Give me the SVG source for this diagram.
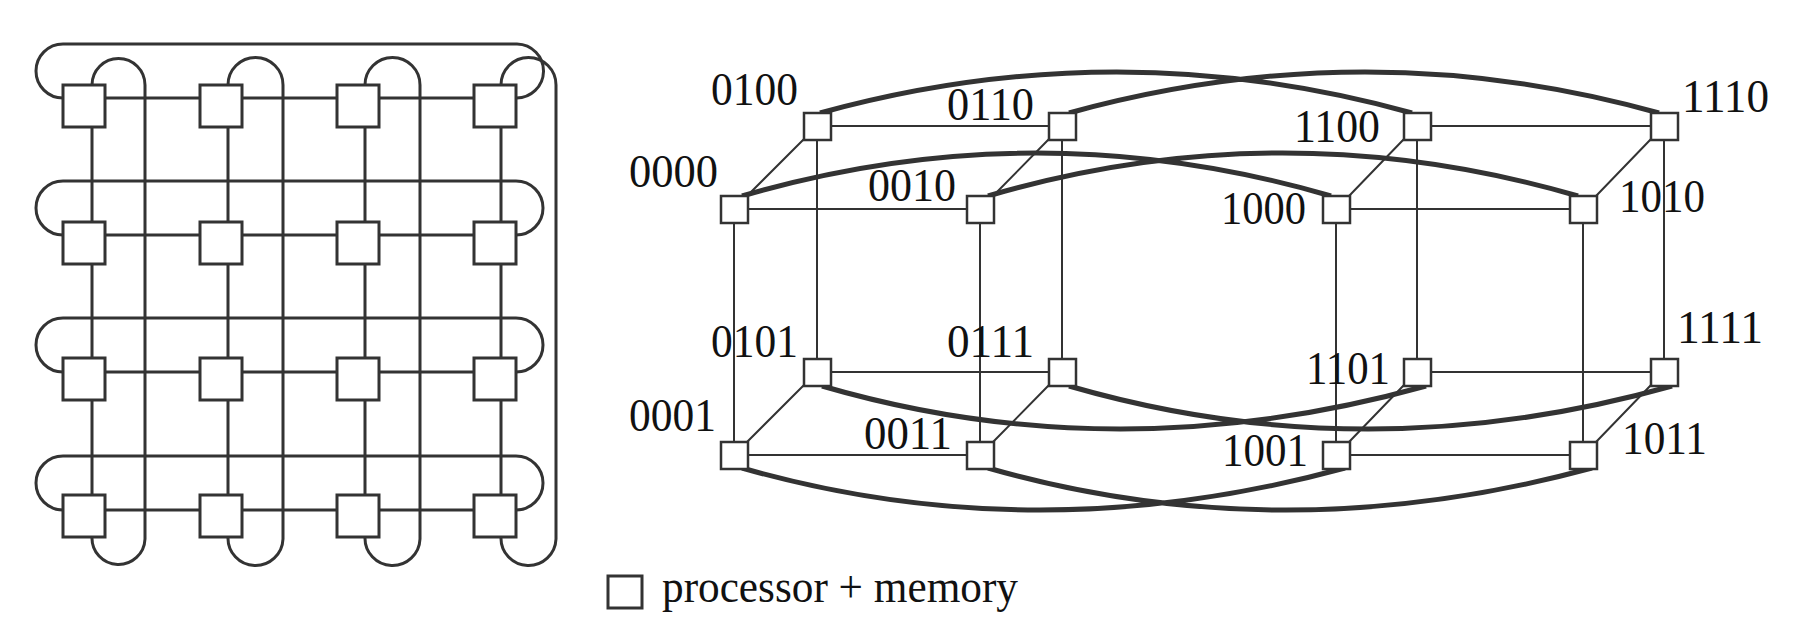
<svg xmlns="http://www.w3.org/2000/svg" width="1814" height="617" viewBox="0 0 1814 617">
<style>
.m{fill:none;stroke:#333;stroke-width:3}
.n{fill:#fff;stroke:#333;stroke-width:3}
.t{fill:none;stroke:#333;stroke-width:2}
.k{fill:none;stroke:#333;stroke-width:5}
.c{fill:#fff;stroke:#333;stroke-width:2.5}
.l{font-family:"Liberation Serif","Times New Roman",serif;font-size:46px;fill:#111}
</style>
<g id="mesh-connectors">
<path class="m" d="M63 98H516M63 235H516M63 372H516M63 510H516M92 85V537M228 85V537M365 85V537M501 85V537"/>
<path class="m" d="M63 98A27 27 0 0 1 63 44H517A27 27 0 0 1 516 98"/>
<path class="m" d="M63 235A27 27 0 0 1 63 181H516A27 27 0 0 1 516 235"/>
<path class="m" d="M63 372A27 27 0 0 1 63 318H516A27 27 0 0 1 516 372"/>
<path class="m" d="M63 510A27 27 0 0 1 63 456H516A27 27 0 0 1 516 510"/>
<path class="m" d="M92 85A26.5 26.5 0 0 1 145 85V539A26.5 26.5 0 0 1 92 537"/>
<path class="m" d="M228 85A27.5 27.5 0 0 1 283 85V539A27.5 27.5 0 0 1 228 537"/>
<path class="m" d="M365 85A27.5 27.5 0 0 1 420 85V539A27.5 27.5 0 0 1 365 537"/>
<path class="m" d="M501 85A27.5 27.5 0 0 1 556 85V539A27.5 27.5 0 0 1 501 537"/>
</g>
<g id="mesh-nodes">
<rect class="n" x="63" y="85" width="42" height="42"/><rect class="n" x="200" y="85" width="42" height="42"/><rect class="n" x="337" y="85" width="42" height="42"/><rect class="n" x="474" y="85" width="42" height="42"/>
<rect class="n" x="63" y="222" width="42" height="42"/><rect class="n" x="200" y="222" width="42" height="42"/><rect class="n" x="337" y="222" width="42" height="42"/><rect class="n" x="474" y="222" width="42" height="42"/>
<rect class="n" x="63" y="358" width="42" height="42"/><rect class="n" x="200" y="358" width="42" height="42"/><rect class="n" x="337" y="358" width="42" height="42"/><rect class="n" x="474" y="358" width="42" height="42"/>
<rect class="n" x="63" y="495" width="42" height="42"/><rect class="n" x="200" y="495" width="42" height="42"/><rect class="n" x="337" y="495" width="42" height="42"/><rect class="n" x="474" y="495" width="42" height="42"/>
</g>
<g id="cube-connectors">
<path class="t" d="M817 126H1062M1417 126H1664M734 209H980M1336 209H1583M817 372H1062M1417 372H1664M734 455H980M1336 455H1583"/>
<path class="t" d="M734 209V455M817 126V372M980 209V455M1062 126V372M1336 209V455M1417 126V372M1583 209V455M1664 126V372"/>
<path class="t" d="M747 196L804 139M993 196L1049 139M1349 196L1404 139M1596 196L1651 139M747 442L804 385M993 442L1049 385M1349 442L1404 385M1596 442L1651 385"/>
<path class="k" d="M820 113Q1117 31 1412 113M1069 113Q1366 31 1659 113M742 196Q1036 110 1331 196M988 196Q1282 110 1578 196"/>
<path class="k" d="M822 386Q1117 472 1426 386M1069 386Q1366 472 1672 386M742 468Q1036 552 1345 468M988 468Q1282 552 1592 468"/>
</g>
<g id="cube-nodes">
<rect class="c" x="804" y="113" width="27" height="27"/><rect class="c" x="1049" y="113" width="27" height="27"/><rect class="c" x="1404" y="113" width="27" height="27"/><rect class="c" x="1651" y="113" width="27" height="27"/>
<rect class="c" x="721" y="196" width="27" height="27"/><rect class="c" x="967" y="196" width="27" height="27"/><rect class="c" x="1323" y="196" width="27" height="27"/><rect class="c" x="1570" y="196" width="27" height="27"/>
<rect class="c" x="804" y="359" width="27" height="27"/><rect class="c" x="1049" y="359" width="27" height="27"/><rect class="c" x="1404" y="359" width="27" height="27"/><rect class="c" x="1651" y="359" width="27" height="27"/>
<rect class="c" x="721" y="442" width="27" height="27"/><rect class="c" x="967" y="442" width="27" height="27"/><rect class="c" x="1323" y="442" width="27" height="27"/><rect class="c" x="1570" y="442" width="27" height="27"/>
</g>
<g id="labels" lengthAdjust="spacingAndGlyphs">
<text class="l" x="711" y="105" textLength="87" lengthAdjust="spacingAndGlyphs">0100</text>
<text class="l" x="947" y="120" textLength="87" lengthAdjust="spacingAndGlyphs">0110</text>
<text class="l" x="1294" y="142" textLength="86" lengthAdjust="spacingAndGlyphs">1100</text>
<text class="l" x="1682" y="112" textLength="87" lengthAdjust="spacingAndGlyphs">1110</text>
<text class="l" x="629" y="187" textLength="89" lengthAdjust="spacingAndGlyphs">0000</text>
<text class="l" x="868" y="201" textLength="88" lengthAdjust="spacingAndGlyphs">0010</text>
<text class="l" x="1221" y="224" textLength="85" lengthAdjust="spacingAndGlyphs">1000</text>
<text class="l" x="1619" y="212" textLength="86" lengthAdjust="spacingAndGlyphs">1010</text>
<text class="l" x="711" y="357" textLength="87" lengthAdjust="spacingAndGlyphs">0101</text>
<text class="l" x="947" y="357" textLength="87" lengthAdjust="spacingAndGlyphs">0111</text>
<text class="l" x="1677" y="343" textLength="86" lengthAdjust="spacingAndGlyphs">1111</text>
<text class="l" x="1306" y="384" textLength="84" lengthAdjust="spacingAndGlyphs">1101</text>
<text class="l" x="629" y="431" textLength="87" lengthAdjust="spacingAndGlyphs">0001</text>
<text class="l" x="864" y="449" textLength="88" lengthAdjust="spacingAndGlyphs">0011</text>
<text class="l" x="1222" y="466" textLength="86" lengthAdjust="spacingAndGlyphs">1001</text>
<text class="l" x="1622" y="454" textLength="85" lengthAdjust="spacingAndGlyphs">1011</text>
</g>
<g id="legend">
<rect class="n" x="608" y="576" width="34" height="32" stroke-width="2.5"/>
<text class="l" x="662" y="602" textLength="356" lengthAdjust="spacingAndGlyphs">processor + memory</text>
</g>
</svg>
